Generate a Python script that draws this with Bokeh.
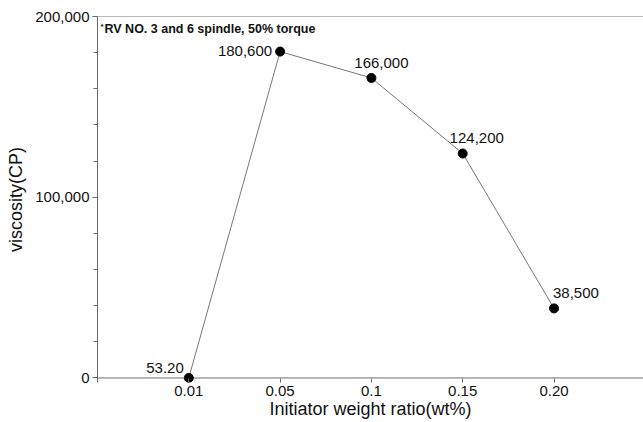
from bokeh.plotting import figure
from bokeh.models import ColumnDataSource, FixedTicker, SingleIntervalTicker, NumeralTickFormatter, Range1d, Span, Label
from bokeh.core.properties import value
from bokeh.embed import file_html
from bokeh.resources import INLINE

# ---- data ----
x_labels = ["0.01", "0.05", "0.1", "0.15", "0.20"]
viscosity = [53.2, 180600, 166000, 124200, 38500]
point_labels = ["53.20", "180,600", "166,000", "124,200", "38,500"]
note_text = "RV NO. 3 and 6 spindle, 50% torque"

# ---- label placement (style) ----
lab_dx = [-5, -8, 10, 14, -1]
lab_dy = [-10, -1, -15, -16, -15]
lab_align = ["right", "right", "center", "center", "left"]

FONT = "Liberation Sans"
AX = "#6a6a6a"
xpos = [i + 1 for i in range(len(x_labels))]

src = ColumnDataSource(dict(x=xpos, y=viscosity, t=point_labels,
                            dx=lab_dx, dy=lab_dy, al=lab_align))

p = figure(width=643, height=422, output_backend="svg", toolbar_location=None,
           x_range=Range1d(0, 5.98), y_range=Range1d(-2500, 200000))
p.min_border_left = 97
p.min_border_top = 16
p.min_border_right = 0
p.min_border_bottom = 40
p.outline_line_color = None
p.grid.visible = False
p.background_fill_color = "white"
p.border_fill_color = "white"

# top frame line and x-axis baseline at zero
p.add_layout(Span(location=200000, dimension="width", line_color="#7a7a7a", line_width=1, level="underlay"))
p.add_layout(Span(location=0, dimension="width", line_color=AX, line_width=1, level="underlay"))

p.line("x", "y", source=src, line_color="#777777", line_width=1)
p.scatter("x", "y", source=src, size=9, color="black")
p.text("x", "y", text="t", source=src, x_offset="dx", y_offset="dy", text_align="al",
       text_baseline="middle", text_font=value(FONT), text_font_size="15px", text_color="#111111")

p.add_layout(Label(x=0, y=200000, x_offset=3, y_offset=-5, text="*", text_font=FONT,
                   text_font_size="8px", text_font_style="bold", text_baseline="top", text_color="#111111"))
p.add_layout(Label(x=0, y=200000, x_offset=7, y_offset=-5, text=note_text, text_font=FONT,
                   text_font_size="12.5px", text_font_style="bold", text_baseline="top", text_color="#111111"))

# x axis
xa = p.xaxis[0]
xa.ticker = FixedTicker(ticks=xpos)
xa.major_label_overrides = {xp: lab for xp, lab in zip(xpos, x_labels)}
xa.axis_label = "Initiator weight ratio(wt%)"
xa.axis_line_color = None
xa.minor_tick_line_color = None
xa.major_tick_in = 4
xa.major_tick_out = 0
xa.major_label_standoff = 3
xa.axis_label_standoff = 0

# y axis
ya = p.yaxis[0]
ya.ticker = SingleIntervalTicker(interval=100000, num_minor_ticks=5)
ya.formatter = NumeralTickFormatter(format="0,0")
ya.axis_label = "viscosity(CP)"
ya.axis_line_color = AX
ya.major_tick_in = 0
ya.major_tick_out = 5
ya.minor_tick_in = 0
ya.minor_tick_out = 4
ya.minor_tick_line_color = AX
ya.major_label_standoff = 3
ya.axis_label_standoff = 6

for ax in (xa, ya):
    ax.major_tick_line_color = AX
    ax.major_label_text_font = FONT
    ax.major_label_text_font_size = "15px"
    ax.major_label_text_color = "#111111"
    ax.axis_label_text_font = FONT
    ax.axis_label_text_font_size = "18px"
    ax.axis_label_text_font_style = "normal"
    ax.axis_label_text_color = "#111111"

open("out.html", "w").write(file_html(p, INLINE))
